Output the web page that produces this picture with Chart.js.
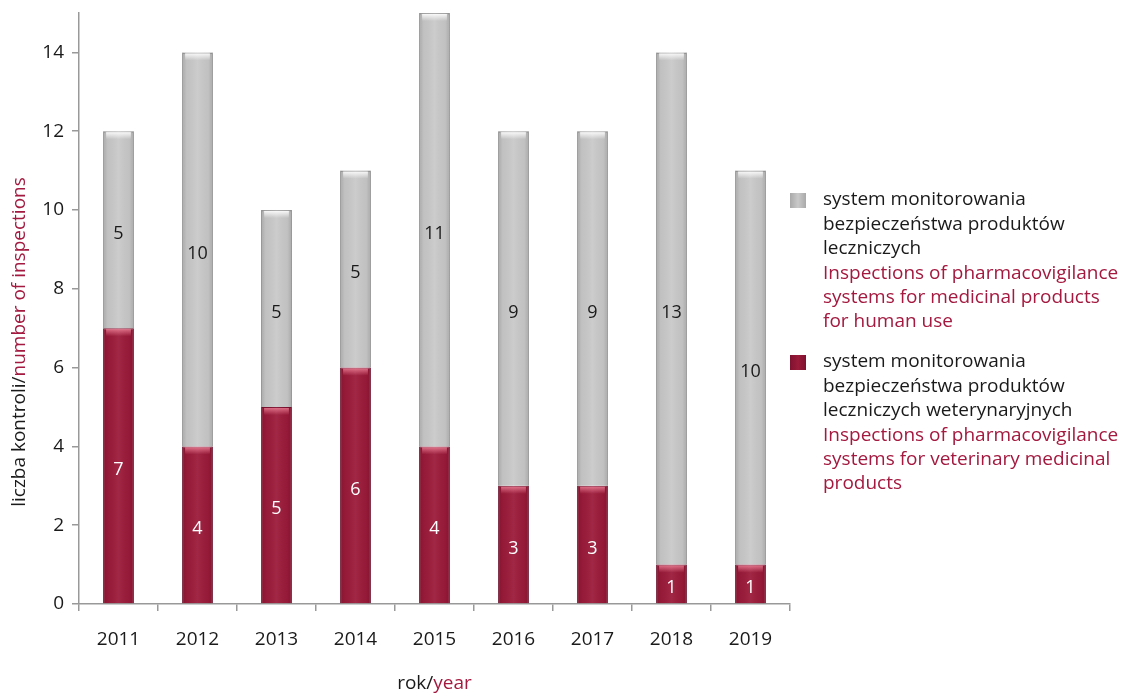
<!DOCTYPE html>
<html>
<head>
<meta charset="utf-8">
<script src="https://cdn.jsdelivr.net/npm/chart.js@4.4.1/dist/chart.umd.min.js"></script>
<style>
  html, body { margin: 0; padding: 0; background: #fff; }
  #wrap { position: relative; width: 1126px; height: 694px; }
</style>
</head>
<body>
<div id="wrap"><canvas id="chart" width="1126" height="694"></canvas></div>
<script>
const years = ['2011', '2012', '2013', '2014', '2015', '2016', '2017', '2018', '2019']
// bottom segment: veterinary products, top segment: human use
const vetInspections = [7, 4, 5, 6, 4, 3, 3, 1, 1]
const humanInspections = [5, 10, 5, 5, 11, 9, 9, 13, 10]

const humanLabelPl = ['system monitorowania', 'bezpieczeństwa produktów', 'leczniczych']
const humanLabelEn = ['Inspections of pharmacovigilance', 'systems for medicinal products', 'for human use']
const vetLabelPl = ['system monitorowania', 'bezpieczeństwa produktów', 'leczniczych weterynaryjnych']
const vetLabelEn = ['Inspections of pharmacovigilance', 'systems for veterinary medicinal', 'products']

const FONT = '"Open Sans", "DejaVu Sans", sans-serif'
const colors = {
  red: '#9b1a3a',
  redBorder: '#7e1230',
  gray: '#c9c9c9',
  grayBorder: '#a9a9a9',
  axis: '#999999',
  text: '#1a1a1a',
  accent: '#a3193f'
}

// cylinder-ish shading, top highlight and value labels on each bar
const barDecor = {
  id: 'barDecor',
  afterDatasetsDraw(chart) {
    const ctx = chart.ctx
    chart.data.datasets.forEach((ds, di) => {
      const meta = chart.getDatasetMeta(di)
      meta.data.forEach((bar, i) => {
        const { x, y, base, width } = bar.getProps(['x', 'y', 'base', 'width'], true)
        const l = x - width / 2, r = x + width / 2
        const g = ctx.createLinearGradient(l, 0, r, 0)
        g.addColorStop(0, 'rgba(0,0,0,0.16)')
        g.addColorStop(0.15, 'rgba(0,0,0,0.04)')
        g.addColorStop(0.5, 'rgba(255,255,255,0.06)')
        g.addColorStop(0.85, 'rgba(0,0,0,0.04)')
        g.addColorStop(1, 'rgba(0,0,0,0.16)')
        ctx.save()
        ctx.fillStyle = g
        ctx.fillRect(l, y, width, base - y)
        // top highlight
        const hg = ctx.createLinearGradient(0, y, 0, y + 8)
        if (di === 0) {
          hg.addColorStop(0, 'rgba(255,150,170,0.75)')
          hg.addColorStop(1, 'rgba(255,150,170,0)')
        } else {
          hg.addColorStop(0, 'rgba(255,255,255,1)')
          hg.addColorStop(1, 'rgba(255,255,255,0)')
        }
        ctx.fillStyle = hg
        ctx.fillRect(l + 3, y + 1, width - 6, 8)
        // value label
        ctx.fillStyle = di === 0 ? '#ffffff' : colors.text
        ctx.font = '18px ' + FONT
        ctx.textAlign = 'center'
        ctx.textBaseline = 'middle'
        ctx.fillText(String(ds.data[i]), x, (y + base) / 2 + 4)
        ctx.restore()
      })
    })
  }
}

// two-colour axis titles and the side legend
const titlesAndLegend = {
  id: 'titlesAndLegend',
  afterDraw(chart) {
    const ctx = chart.ctx
    const area = chart.chartArea
    ctx.save()
    ctx.font = '19px ' + FONT
    ctx.textBaseline = 'middle'

    // x title
    const xa = 'rok/', xb = 'year'
    const wa = ctx.measureText(xa).width, wb = ctx.measureText(xb).width
    let sx = (area.left + area.right) / 2 - (wa + wb) / 2
    ctx.textAlign = 'left'
    ctx.fillStyle = colors.text
    ctx.fillText(xa, sx, 684)
    ctx.fillStyle = colors.accent
    ctx.fillText(xb, sx + wa, 684)

    // y title
    const ya = 'liczba kontroli/', yb = 'number of inspections'
    const ua = ctx.measureText(ya).width, ub = ctx.measureText(yb).width
    ctx.translate(20, 342)
    ctx.rotate(-Math.PI / 2)
    ctx.fillStyle = colors.text
    ctx.fillText(ya, -(ua + ub) / 2, 0)
    ctx.fillStyle = colors.accent
    ctx.fillText(yb, -(ua + ub) / 2 + ua, 0)
    ctx.setTransform(1, 0, 0, 1, 0, 0)

    // legend
    const entries = [
      { top: 200, fill: colors.gray, edge: colors.grayBorder, pl: humanLabelPl, en: humanLabelEn },
      { top: 362, fill: colors.red, edge: colors.redBorder, pl: vetLabelPl, en: vetLabelEn }
    ]
    const lh = 24.4
    entries.forEach(e => {
      const sw = ctx.createLinearGradient(790, 0, 806, 0)
      sw.addColorStop(0, e.edge)
      sw.addColorStop(0.5, e.fill)
      sw.addColorStop(1, e.edge)
      ctx.fillStyle = sw
      ctx.fillRect(790, e.top - 7, 16, 15)
      ctx.textAlign = 'left'
      let ly = e.top
      e.pl.forEach(t => { ctx.fillStyle = colors.text; ctx.fillText(t, 823, ly); ly += lh })
      e.en.forEach(t => { ctx.fillStyle = colors.accent; ctx.fillText(t, 823, ly); ly += lh })
    })
    ctx.restore()
  }
}

new Chart(document.getElementById('chart'), {
  type: 'bar',
  data: {
    labels: years,
    datasets: [
      {
        label: vetLabelEn.join(' '),
        data: vetInspections,
        backgroundColor: colors.red,
        borderColor: colors.redBorder,
        borderWidth: 1
      },
      {
        label: humanLabelEn.join(' '),
        data: humanInspections,
        backgroundColor: colors.gray,
        borderColor: colors.grayBorder,
        borderWidth: 1.5
      }
    ]
  },
  options: {
    responsive: false,
    animation: false,
    layout: { padding: { left: 0, right: 336, top: 13, bottom: 0 } },
    datasets: {
      bar: { categoryPercentage: 1, barPercentage: 0.39 }
    },
    plugins: {
      legend: { display: false },
      tooltip: { enabled: false }
    },
    scales: {
      x: {
        stacked: true,
        afterFit: s => { s.height = 90 },
        border: { color: colors.axis, width: 1.5 },
        grid: {
          offset: true,
          drawOnChartArea: false,
          color: colors.axis,
          tickLength: 7,
          lineWidth: 1.5
        },
        ticks: {
          color: colors.text,
          font: { family: FONT, size: 19 },
          padding: 17
        }
      },
      y: {
        stacked: true,
        min: 0,
        max: 15,
        afterFit: s => { s.width = 79; s.paddingTop = 0; s.paddingBottom = 0 },
        border: { color: colors.axis, width: 1.5 },
        grid: {
          drawOnChartArea: false,
          color: colors.axis,
          tickLength: 7,
          lineWidth: 1.5
        },
        ticks: {
          stepSize: 2,
          includeBounds: false,
          color: colors.text,
          font: { family: FONT, size: 19 },
          padding: 8
        }
      }
    }
  },
  plugins: [barDecor, titlesAndLegend]
})
</script>
</body>
</html>
